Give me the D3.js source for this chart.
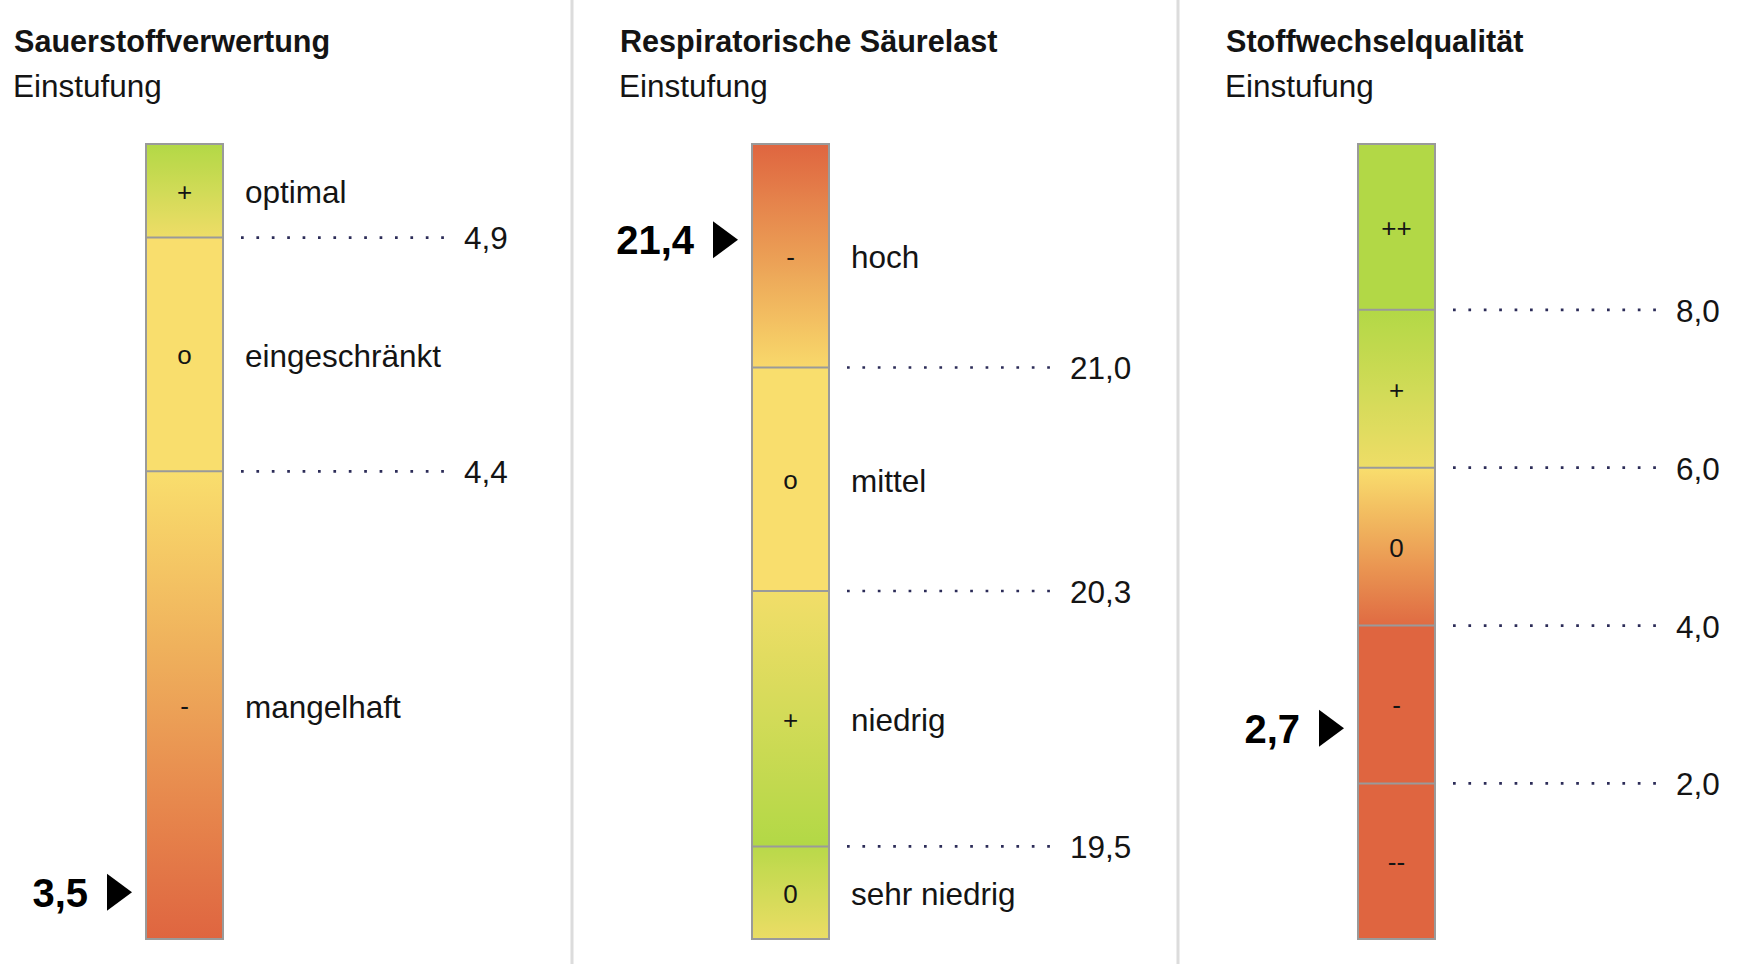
<!DOCTYPE html>
<html>
<head>
<meta charset="utf-8">
<script src="https://cdn.jsdelivr.net/npm/d3@7/dist/d3.min.js"></script>
<style>
    body { margin: 0; background: #fff; }
    svg text { font-family: "Liberation Sans", Arial, sans-serif; fill: #141414; }
</style>
</head>
<body>
<svg id="chart" width="1756" height="964"></svg>
<script>
var panelTitles = ["Sauerstoffverwertung", "Respiratorische Säurelast", "Stoffwechselqualität"];
var panelSubtitle = "Einstufung";

// visible range of each scale (bottom, top)
var scaleMin = [3.40, 19.21, 0.03];
var scaleMax = [5.10, 21.70, 10.1];

// class boundaries, top to bottom
var thresholds = [[4.9, 4.4], [21.0, 20.3, 19.5], [8.0, 6.0, 4.0, 2.0]];

var segmentSymbols = [["+", "o", "-"], ["-", "o", "+", "0"], ["++", "+", "0", "-", "--"]];
var segmentLabels = [["optimal", "eingeschränkt", "mangelhaft"],
                     ["hoch", "mittel", "niedrig", "sehr niedrig"],
                     ["", "", "", "", ""]];

// rating at top / bottom edge of each segment: 1 good, 0 neutral, -1 poor
var topScores = [[1, 0, 0], [-1, 0, 0.1, 0.9], [1, 1, 0, -1, -1]];
var bottomScores = [[0.15, 0, -1], [-0.05, 0, 1, 0.2], [1, 0.15, -0.95, -1, -1]];

var measuredValues = [3.5, 21.4, 2.7];

var width = 1756, height = 964,
    panelX0 = 14, panelStep = 606,
    barOffset = 132, barWidth = 77,
    barTop = 144, barBottom = 939,
    borderColor = "#9a9a9a";

var de = d3.formatLocale({decimal: ",", thousands: ".", grouping: [3], currency: ["", " €"]}),
    fmt = de.format(".1f");

var color = d3.scaleLinear()
        .domain([-1, 0, 1])
        .range(["#df6540", "#f9de6d", "#b2d846"]);

var svg = d3.select("#chart");
var defs = svg.append("defs");

// panel separators
svg.selectAll(".sep")
    .data([1, 2])
    .enter().append("line")
    .attr("class", "sep")
    .attr("x1", function(d) { return panelX0 + d*panelStep - 48; })
    .attr("x2", function(d) { return panelX0 + d*panelStep - 48; })
    .attr("y1", 0).attr("y2", height)
    .attr("stroke", "#dcdcdc")
    .attr("stroke-width", 3);

panelTitles.forEach(function(title, i) {
    var g = svg.append("g")
            .attr("transform", "translate(" + (panelX0 + i*panelStep) + ",0)");

    var y = d3.scaleLinear()
            .domain([scaleMin[i], scaleMax[i]])
            .range([barBottom, barTop]);

    var edges = [scaleMax[i]].concat(thresholds[i], [scaleMin[i]]);
    var segments = d3.range(edges.length - 1).map(function(j) {
        return { id: "grad-" + i + "-" + j,
                 top: edges[j], bottom: edges[j+1],
                 symbol: segmentSymbols[i][j],
                 label: segmentLabels[i][j],
                 s0: topScores[i][j], s1: bottomScores[i][j] };
    });

    g.append("text")
        .attr("x", 0).attr("y", 52)
        .style("font-size", "30.6px")
        .style("font-weight", "bold")
        .text(title);
    g.append("text")
        .attr("x", -1).attr("y", 97)
        .style("font-size", "31.5px")
        .text(panelSubtitle);

    var grads = defs.selectAll(".g" + i)
            .data(segments)
            .enter().append("linearGradient")
            .attr("class", "g" + i)
            .attr("id", function(d) { return d.id; })
            .attr("x1", 0).attr("y1", 0).attr("x2", 0).attr("y2", 1);
    grads.selectAll("stop")
        .data(function(d) {
            return d3.range(0, 1.0001, 0.125).map(function(t) {
                return { t: t, c: color(d.s0 + (d.s1 - d.s0)*t) };
            });
        })
        .enter().append("stop")
        .attr("offset", function(d) { return d.t; })
        .attr("stop-color", function(d) { return d.c; });

    g.selectAll(".seg")
        .data(segments)
        .enter().append("rect")
        .attr("class", "seg")
        .attr("x", barOffset)
        .attr("y", function(d) { return y(d.top); })
        .attr("width", barWidth)
        .attr("height", function(d) { return y(d.bottom) - y(d.top); })
        .attr("fill", function(d) { return "url(#" + d.id + ")"; });

    g.selectAll(".divider")
        .data(thresholds[i])
        .enter().append("line")
        .attr("class", "divider")
        .attr("x1", barOffset).attr("x2", barOffset + barWidth)
        .attr("y1", function(d) { return y(d); })
        .attr("y2", function(d) { return y(d); })
        .attr("stroke", borderColor)
        .attr("stroke-width", 2);

    g.append("rect")
        .attr("x", barOffset).attr("y", y(scaleMax[i]))
        .attr("width", barWidth)
        .attr("height", y(scaleMin[i]) - y(scaleMax[i]))
        .attr("fill", "none")
        .attr("stroke", borderColor)
        .attr("stroke-width", 2);

    g.selectAll(".symbol")
        .data(segments)
        .enter().append("text")
        .attr("class", "symbol")
        .attr("x", barOffset + barWidth/2)
        .attr("y", function(d) { return (y(d.top) + y(d.bottom))/2; })
        .attr("dy", "0.38em")
        .attr("text-anchor", "middle")
        .style("font-size", "26px")
        .text(function(d) { return d.symbol; });

    g.selectAll(".label")
        .data(segments.filter(function(d) { return d.label; }))
        .enter().append("text")
        .attr("class", "label")
        .attr("x", 231)
        .attr("y", function(d) { return (y(d.top) + y(d.bottom))/2; })
        .attr("dy", "0.4em")
        .style("font-size", "31.5px")
        .text(function(d) { return d.label; });

    // dotted reference lines with value
    g.selectAll(".ref")
        .data(thresholds[i])
        .enter().append("line")
        .attr("class", "ref")
        .attr("x1", 227).attr("x2", 430)
        .attr("y1", function(d) { return y(d); })
        .attr("y2", function(d) { return y(d); })
        .attr("stroke", "#2c2c58")
        .attr("stroke-width", 2.7)
        .attr("stroke-dasharray", "2.7,12.7");
    g.selectAll(".refLabel")
        .data(thresholds[i])
        .enter().append("text")
        .attr("class", "refLabel")
        .attr("x", 450)
        .attr("y", function(d) { return y(d); })
        .attr("dy", "0.38em")
        .style("font-size", "31.5px")
        .text(function(d) { return fmt(d); });

    // measured value marker
    var my = y(measuredValues[i]),
        tip = barOffset - 14;
    g.append("path")
        .attr("d", "M" + tip + "," + my +
              "L" + (tip - 25) + "," + (my - 18.5) +
              "L" + (tip - 25) + "," + (my + 18.5) + "Z")
        .attr("fill", "#000");
    g.append("text")
        .attr("x", tip - 44)
        .attr("y", my)
        .attr("dy", "0.36em")
        .attr("text-anchor", "end")
        .style("font-size", "40px")
        .style("font-weight", "bold")
        .style("fill", "#000")
        .text(fmt(measuredValues[i]));
});
</script>
</body>
</html>
